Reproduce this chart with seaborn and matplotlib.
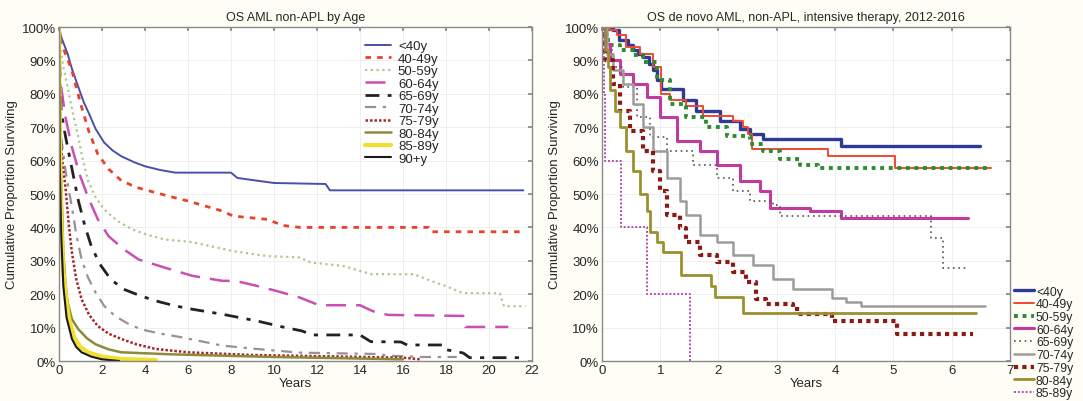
import seaborn as sns
import pandas as pd
import numpy as np
import matplotlib.pyplot as plt
from matplotlib.ticker import FuncFormatter, MultipleLocator

# ---- left panel: OS AML non-APL by age (years, % surviving) ----
L_lt40_t = [0, 0.1, 0.25, 0.4, 0.6, 0.9, 1.15, 1.4, 1.7, 2.1, 2.5, 2.9, 3.5, 4.0, 4.7, 5.4,
            8.0, 8.3, 10.0, 12.4, 12.6, 21.6]
L_lt40_s = [100, 97, 94.5, 92, 87.5, 82, 77.5, 74, 69.5, 65.4, 63, 61.3, 59.5, 58.3, 57.2, 56.4,
            56.4, 54.8, 53.3, 53, 51.1, 51.1]
L_40_t = [0, 0.05, 0.3, 0.6, 0.8, 1.05, 1.4, 1.8, 2.3, 2.9, 3.6, 4.5, 5.2, 6.0, 7.6, 8.1,
          9.7, 10.4, 11.2, 17.2, 17.3, 21.6]
L_40_s = [100, 96, 92, 87, 82, 76, 68.5, 62, 57.5, 54, 52, 50.4, 49.2, 47.9, 44.9, 43.4,
          42.4, 40.6, 40, 40, 38.7, 38.7]
L_50_t = [0, 0.05, 0.2, 0.4, 0.65, 0.9, 1.1, 1.35, 1.7, 2.1, 2.7, 3.4, 4.1, 4.9, 6.2, 8.1,
          9.7, 11.2, 11.7, 13.2, 14.5, 16.5, 17.3, 18.0, 18.8, 20.5, 20.7, 21.7]
L_50_s = [100, 94, 88, 82, 74, 67, 60.5, 54, 49, 45.4, 42, 39.4, 37.8, 36.4, 35.6, 32.9,
          31.4, 31, 29.5, 28.5, 26, 26, 24, 22.4, 20.3, 20.3, 16.4, 16.4]
L_60_t = [0, 0.03, 0.1, 0.3, 0.6, 0.95, 1.35, 1.8, 2.3, 3.0, 3.7, 4.9, 6.2, 7.6, 8.2, 9.2,
          10.1, 11.2, 12.1, 14.0, 14.6, 15.3, 18.8, 18.9, 20.9]
L_60_s = [100, 90, 82, 73, 64, 56, 49, 42.5, 37.4, 33.5, 30.4, 28, 25.5, 24, 24, 22.5,
          21, 19, 16.7, 16.7, 14.9, 13.8, 13.5, 10.2, 10.2]
L_65_t = [0, 0.03, 0.1, 0.25, 0.4, 0.65, 0.9, 1.2, 1.5, 1.9, 2.4, 3.0, 3.8, 4.5, 5.4, 6.2,
          7.6, 9.2, 10.4, 11.3, 11.8, 14.0, 14.5, 15.9, 16.2, 17.9, 18.0, 18.8, 19.1, 21.7]
L_65_s = [100, 85, 75, 69, 64, 56, 48, 40.5, 34.4, 29, 24.5, 21.5, 19.5, 18, 16.5, 15.5,
          14, 12, 10.2, 9, 7.8, 7.8, 5.8, 5.7, 4.8, 4.8, 3.4, 2.4, 1, 1]
L_70_t = [0, 0.03, 0.1, 0.3, 0.6, 0.8, 1.05, 1.35, 1.7, 2.1, 2.6, 3.2, 3.8, 4.7, 5.7, 7.6,
          9.2, 11.2, 14.8, 15.3, 16.9, 18.5]
L_70_s = [100, 80, 67, 57, 46, 38, 30.4, 25, 20.5, 16.5, 13.5, 11.2, 9.5, 8.2, 7.1, 4.6,
          3.6, 2.5, 2.1, 1.6, 1.2, 1.2]
L_75_t = [0, 0.05, 0.15, 0.3, 0.45, 0.6, 0.8, 1.05, 1.4, 1.8, 2.3, 2.9, 3.6, 4.5, 6.0, 9.0,
          16.0, 16.8]
L_75_s = [100, 69, 60, 52, 41, 32.5, 24.5, 18.5, 13.8, 10.5, 8.2, 6.6, 5, 3.6, 2.6, 1.8,
          1.0, 0.5]
L_80_t = [0, 0.03, 0.1, 0.2, 0.3, 0.4, 0.6, 0.9, 1.3, 1.7, 2.3, 2.9, 5.2, 10.0, 16.0]
L_80_s = [100, 80, 55, 32.5, 23, 17.6, 12.5, 9.5, 6.8, 5, 3.5, 2.6, 2, 1.2, 0.5]
L_85_t = [0, 0.03, 0.1, 0.2, 0.35, 0.5, 0.75, 1.0, 1.35, 2.0, 2.9, 4.5]
L_85_s = [100, 70, 42, 27, 17.6, 11.5, 6.6, 4.2, 2.6, 1.3, 0.6, 0.3]
L_90_t = [0, 0.03, 0.1, 0.2, 0.35, 0.6, 0.8, 1.05, 1.5, 2.0, 2.8]
L_90_s = [100, 60, 38, 22.5, 13, 6.6, 4.2, 2.6, 1.3, 0.5, 0]

left_labels = ['<40y', '40-49y', '50-59y', '60-64y', '65-69y', '70-74y',
               '75-79y', '80-84y', '85-89y', '90+y']

# ---- right panel: de novo AML, intensive therapy 2012-2016 (KM steps) ----
R_lt40_t = [0, 0.05, 0.19, 0.3, 0.45, 0.53, 0.62, 0.7, 0.8, 0.88, 0.95, 1.02, 1.39, 1.62,
            2.02, 2.37, 2.54, 2.76, 4.1, 6.48]
R_lt40_s = [100, 99.5, 99, 96, 94.5, 93, 92, 91, 89, 87, 84, 81.4, 78, 75,
            72, 69.4, 67.9, 66.4, 64.4, 64.4]
R_40_t = [0, 0.14, 0.25, 0.42, 0.65, 0.88, 1.02, 1.17, 1.45, 1.73, 2.25, 2.42, 2.5, 2.57,
          3.88, 5.03, 6.68]
R_40_s = [100, 99, 97.5, 94, 92, 88, 80, 78, 76.5, 73.5, 72, 70, 67.9, 63.4,
          61.3, 57.8, 57.8]
R_50_t = [0, 0.05, 0.14, 0.31, 0.53, 0.7, 0.94, 1.17, 1.45, 1.79, 2.14, 2.54, 2.76, 3.05,
          3.4, 3.7, 6.6]
R_50_s = [100, 96, 94.5, 93, 91.5, 89.5, 84, 77, 73, 70, 67.4, 65, 63, 60.5,
          58.8, 57.8, 57.8]
R_60_t = [0, 0.05, 0.14, 0.31, 0.53, 0.77, 0.99, 1.28, 1.68, 1.97, 2.37, 2.71, 2.88, 3.57,
          4.1, 6.28]
R_60_s = [100, 95, 90, 86, 83, 79, 73, 65.8, 63, 58.8, 53.8, 50.8, 45.8, 44.8,
          42.8, 42.8]
R_65_t = [0, 0.08, 0.19, 0.36, 0.6, 0.82, 1.11, 1.56, 1.97, 2.25, 2.54, 2.93, 3.05, 5.65,
          5.85, 6.25]
R_65_s = [100, 93, 88, 82, 73, 67, 62.8, 58.8, 54.8, 50.8, 47.8, 46.8, 43.3, 36.7,
          27.7, 27.7]
R_70_t = [0, 0.08, 0.19, 0.36, 0.53, 0.7, 0.88, 1.11, 1.34, 1.45, 1.68, 1.97, 2.25, 2.6,
          2.93, 3.28, 3.94, 4.19, 4.45, 6.57]
R_70_s = [100, 92, 87, 83, 77, 70, 62.8, 54.8, 48, 43.8, 37.7, 35.7, 31.7, 28.7,
          24.7, 21.7, 18.9, 17.7, 16.4, 16.4]
R_75_t = [0, 0.05, 0.19, 0.31, 0.48, 0.7, 0.88, 0.99, 1.11, 1.34, 1.45, 1.68, 1.97, 2.25,
          2.48, 2.65, 2.82, 3.28, 3.4, 3.94, 5.06, 6.37]
R_75_s = [100, 90, 83, 75, 68.8, 62.8, 56.8, 50.8, 43.8, 39.8, 35.7, 31.7, 29.7, 26.7,
          23.7, 18.7, 17.2, 15.7, 14.2, 12.1, 8, 8]
R_80_t = [0, 0.05, 0.1, 0.14, 0.22, 0.31, 0.42, 0.54, 0.65, 0.77, 0.82, 0.94, 1.05, 1.36,
          1.88, 1.94, 2.42, 6.42]
R_80_s = [100, 93, 88, 81, 75, 70, 63, 57, 50, 44.8, 38.7, 35.7, 32.7, 25.7,
          22.5, 19.2, 14.5, 14.5]
R_85_t = [0, 0.03, 0.05, 0.33, 0.77, 1.51]
R_85_s = [100, 80, 60, 40, 20, 0]

right_labels = ['<40y', '40-49y', '50-59y', '60-64y', '65-69y', '70-74y',
                '75-79y', '80-84y', '85-89y']

sns.set_theme(style='white')
plt.rcParams['font.family'] = ['Liberation Sans', 'DejaVu Sans']

fig = plt.figure(figsize=(10.83, 4.02), dpi=100)
fig.patch.set_facecolor('#fefdf6')
ax1 = fig.add_axes([0.0545, 0.0995, 0.4367, 0.8308])
ax2 = fig.add_axes([0.5558, 0.0995, 0.3767, 0.8308])

left_series = [(L_lt40_t, L_lt40_s), (L_40_t, L_40_s), (L_50_t, L_50_s), (L_60_t, L_60_s),
               (L_65_t, L_65_s), (L_70_t, L_70_s), (L_75_t, L_75_s), (L_80_t, L_80_s),
               (L_85_t, L_85_s), (L_90_t, L_90_s)]
left_styles = [('#4b4fa6', '-', 1.4), ('#e8412c', (0, (2, 2.2)), 2.0),
               ('#a9c98e', (0, (1, 1.6)), 1.6), ('#c94fb4', (0, (8, 4)), 1.8),
               ('#222222', (0, (5, 3, 1.5, 3)), 2.0), ('#9c9098', (0, (5, 3, 1.5, 3)), 1.6),
               ('#a3282a', (0, (1, 0.8)), 1.8), ('#8c8a3c', '-', 1.8),
               ('#f2df2e', '-', 3.0), ('#1a1a1a', '-', 1.5)]
right_series = [(R_lt40_t, R_lt40_s), (R_40_t, R_40_s), (R_50_t, R_50_s), (R_60_t, R_60_s),
                (R_65_t, R_65_s), (R_70_t, R_70_s), (R_75_t, R_75_s), (R_80_t, R_80_s),
                (R_85_t, R_85_s)]
right_styles = [('#2f3a94', '-', 2.4), ('#ee4a30', '-', 1.4), ('#2e8b2e', (0, (1, 1.2)), 2.8),
                ('#c2399f', '-', 2.2), ('#555555', (0, (1, 2.2)), 1.2), ('#a09a9a', '-', 1.8),
                ('#8b1a14', (0, (1, 1)), 3.0), ('#9a9030', '-', 2.0),
                ('#b04fb0', (0, (1, 1)), 1.4)]

for (t, s), lab, (c, ls, lw) in zip(left_series, left_labels, left_styles):
    df = pd.DataFrame({'Years': t, 'Surv': s})
    sns.lineplot(x='Years', y='Surv', data=df, ax=ax1, color=c, lw=lw,
                 estimator=None, sort=False, label=lab)
    ax1.lines[-1].set_linestyle(ls)

for (t, s), lab, (c, ls, lw) in zip(right_series, right_labels, right_styles):
    df = pd.DataFrame({'Years': t, 'Surv': s})
    sns.lineplot(x='Years', y='Surv', data=df, ax=ax2, color=c, lw=lw,
                 estimator=None, sort=False, drawstyle='steps-post', label=lab)
    ax2.lines[-1].set_linestyle(ls)

pct = FuncFormatter(lambda v, p: '%d%%' % v)
for ax, xmax in [(ax1, 22), (ax2, 7)]:
    ax.set_facecolor('white')
    ax.set_xlim(0, xmax)
    ax.set_ylim(0, 100)
    ax.xaxis.set_major_locator(MultipleLocator(2 if xmax == 22 else 1))
    ax.yaxis.set_major_locator(MultipleLocator(10))
    ax.yaxis.set_major_formatter(pct)
    ax.grid(True, color='#ececec', lw=0.6)
    ax.tick_params(direction='in', length=3, top=True, right=True, labelsize=9.5,
                   pad=2, color='#888888')
    for sp in ax.spines.values():
        sp.set_color('#8a8a8a')
        sp.set_linewidth(1.0)
    ax.set_xlabel('Years', fontsize=9.5, labelpad=1)
    ax.set_ylabel('Cumulative Proportion Surviving', fontsize=9.5, labelpad=3)

ax1.set_title('OS AML non-APL by Age', fontsize=9, pad=5)
ax2.set_title('OS de novo AML, non-APL, intensive therapy, 2012-2016', fontsize=9, pad=5)

ax1.legend(loc='upper left', bbox_to_anchor=(0.63, 0.985), frameon=False, fontsize=9.5,
           handlelength=2.0, handletextpad=0.5, labelspacing=0.02, borderpad=0.1)
ax2.legend(loc='lower left', bbox_to_anchor=(1.01, -0.115), frameon=False, fontsize=8.8,
           handlelength=1.6, handletextpad=0.2, labelspacing=0.06, borderpad=0.0,
           borderaxespad=0.0)

fig.savefig('out.png', dpi=100, facecolor=fig.get_facecolor())
